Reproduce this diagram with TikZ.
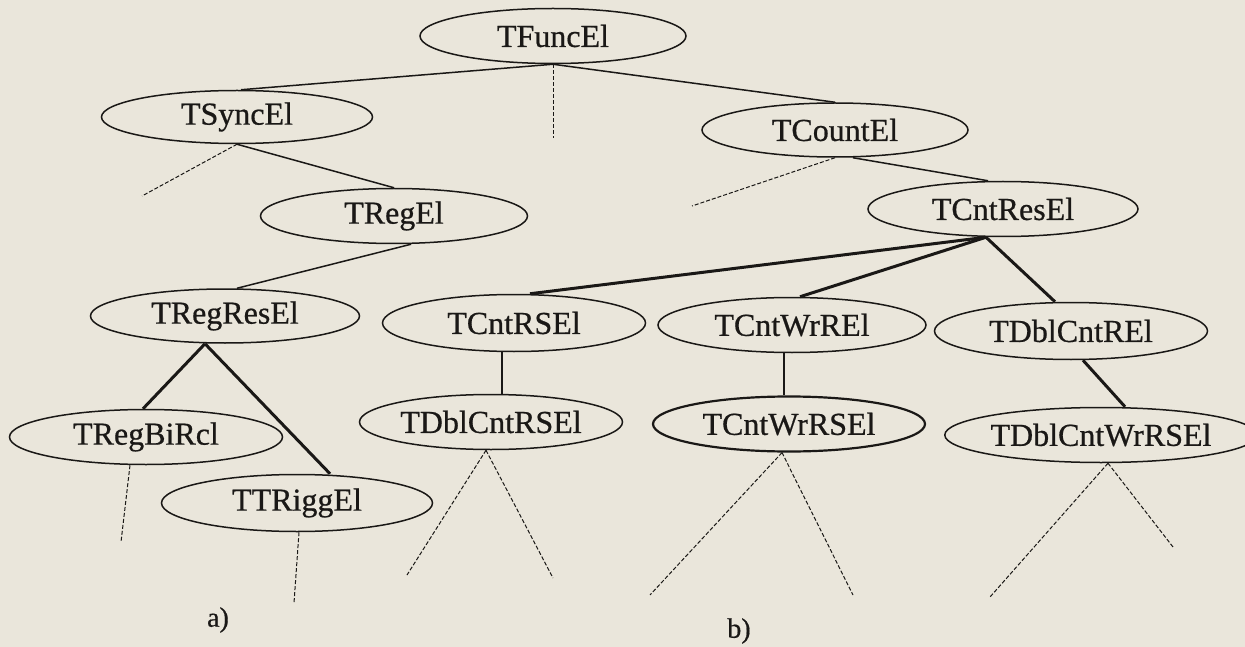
\documentclass[tikz,border=0pt]{standalone}
\usepackage{fontspec}
\setmainfont{Liberation Serif}
\newfontfamily\labelfont{Liberation Serif}[FakeBold=0.6]
\usetikzlibrary{shapes.geometric}
\definecolor{paper}{RGB}{234,230,219}
\definecolor{ink}{RGB}{26,24,22}
\begin{document}
\begin{tikzpicture}[x=1pt,y=-1pt,
  cls/.style={ellipse,draw=ink,line width=1.5pt,minimum width=268pt,
    minimum height=55pt,inner sep=0pt,text=ink,
    font=\labelfont\fontsize{32}{36}\selectfont},
  thinlink/.style={draw=ink,line width=1.5pt},
  midlink/.style={draw=ink,line width=2.2pt},
  thicklink/.style={draw=ink,line width=3pt},
  stub/.style={draw=ink,line width=1pt,dash pattern=on 4pt off 2pt},
  caption/.style={text=ink,font=\labelfont\fontsize{28}{32}\selectfont},
]
\fill[paper] (0,0) rectangle (1245,647);
\useasboundingbox (0,0) rectangle (1245,647);

% class hierarchy
\node[cls,minimum width=266pt] (f)   at (553,36)  {TFuncEl};
\node[cls,minimum width=271pt,minimum height=53pt] (s) at (237,117) {TSyncEl};
\node[cls,minimum width=266pt,minimum height=54pt] (c) at (835,130) {TCountEl};
\node[cls,minimum width=267pt] (re)  at (394,216) {TRegEl};
\node[cls,minimum width=270pt] (cr)  at (1003,209) {TCntResEl};
\node[cls,minimum width=269pt,minimum height=54pt] (rr) at (225,316) {TRegResEl};
\node[cls,minimum width=263pt,minimum height=57pt] (crs) at (514,323) {TCntRSEl};
\node[cls] (cw)  at (792,325) {TCntWrREl};
\node[cls,minimum width=273pt,minimum height=57pt] (dc) at (1071,331) {TDblCntREl};
\node[cls,minimum width=273pt] (rb)  at (146,437) {TRegBiRcl};
\node[cls,minimum width=263pt] (drs) at (491,422) {TDblCntRSEl};
\node[cls,minimum width=272pt,line width=2.2pt] (cws) at (789,424) {TCntWrRSEl};
\node[cls,minimum width=272pt] (dcw) at (1101,435) {TDblCntWrRSEl};
\node[cls,minimum width=271pt,minimum height=57pt] (tr) at (297,503) {TTRiggEl};

\node[caption] (la) at (218,620) {a)};
\node[caption] (lb) at (739,631) {b)};

% free ends of the open branches
\coordinate (fe)  at (553,138);
\coordinate (se)  at (142,196);
\coordinate (ce)  at (692,206);
\coordinate (rbe) at (121,542);
\coordinate (tre) at (294,603);
\coordinate (drl) at (407,575);
\coordinate (drr) at (553,578);
\coordinate (cwl) at (650,595);
\coordinate (cwr) at (853,595);
\coordinate (dcl) at (990,597);
\coordinate (dcr) at (1173,547);

% links
\draw[thinlink] (f.south) -- ([xshift=4pt]s.north);
\draw[thinlink] (f.south) -- (c.north);
\draw[stub] (f.south) -- (fe);
\draw[thinlink] (s.south) -- (re.north);
\draw[stub] (s.south) -- (se);
\draw[thinlink] ([xshift=17pt]re.south) -- ([xshift=12pt]rr.north);
\draw[thinlink] ([xshift=18pt]c.south) -- ([xshift=-15pt]cr.north);
\draw[stub] (c.south) -- (ce);
\draw[thicklink] ([xshift=-17pt]cr.south) -- ([xshift=16pt]crs.north);
\draw[thicklink] ([xshift=-17pt]cr.south) -- ([xshift=8pt]cw.north);
\draw[thicklink] ([xshift=-17pt]cr.south) -- ([xshift=-16pt]dc.north);
\draw[midlink] ([xshift=-12pt]crs.south) -- ([xshift=11pt]drs.north);
\draw[midlink] ([xshift=-8pt]cw.south) -- ([xshift=-5pt]cws.north);
\draw[thicklink] ([xshift=12pt]dc.south) -- ([xshift=24pt]dcw.north);
\draw[thicklink] ([xshift=-20pt]rr.south) -- ([xshift=-3pt]rb.north);
\draw[thicklink] ([xshift=-20pt]rr.south) -- ([xshift=33pt]tr.north);
\draw[stub] ([xshift=-16pt]rb.south) -- (rbe);
\draw[stub] ([xshift=2pt]tr.south) -- (tre);
\draw[stub] ([xshift=-5pt]drs.south) -- (drl);
\draw[stub] ([xshift=-5pt]drs.south) -- (drr);
\draw[stub] ([xshift=-7pt]cws.south) -- (cwl);
\draw[stub] ([xshift=-7pt]cws.south) -- (cwr);
\draw[stub] ([xshift=7pt]dcw.south) -- (dcl);
\draw[stub] ([xshift=7pt]dcw.south) -- (dcr);
\end{tikzpicture}
\end{document}
